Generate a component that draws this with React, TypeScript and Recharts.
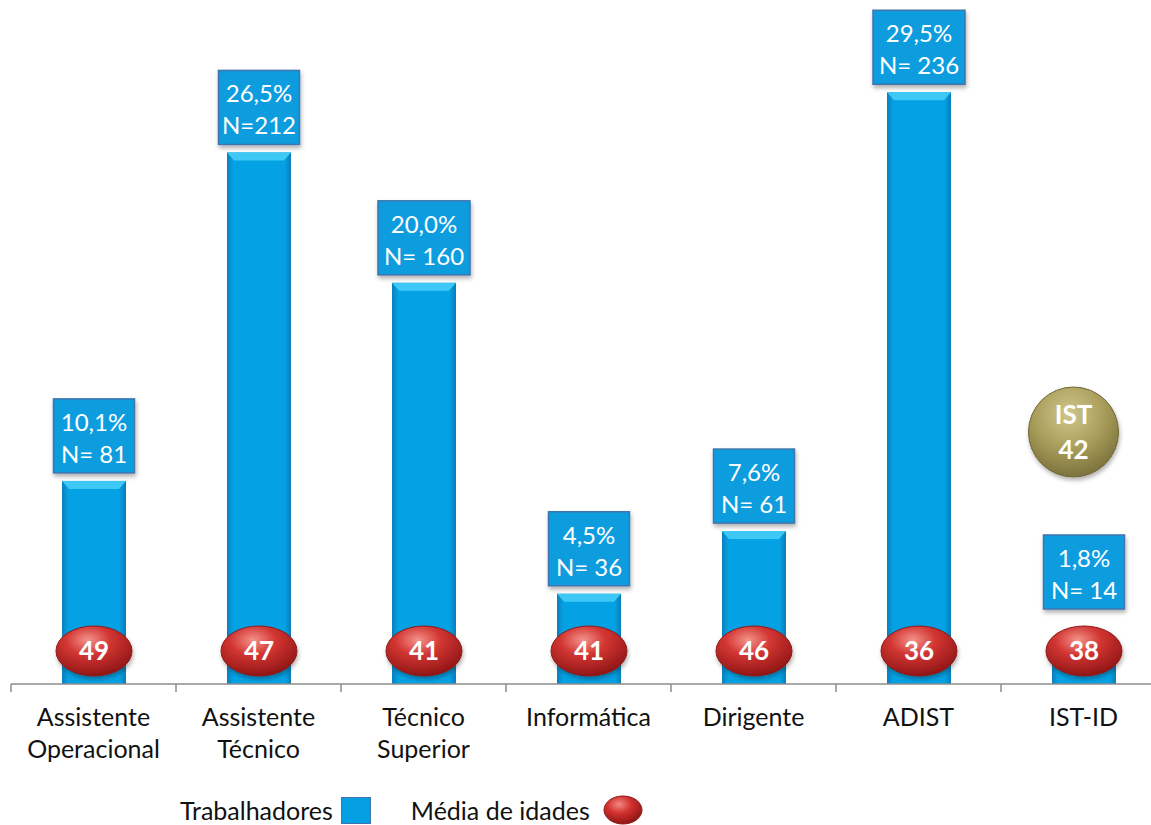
import React from 'react';
import { BarChart, Bar, XAxis, YAxis, LabelList, ReferenceDot, Legend } from 'recharts';

// Distribuição dos trabalhadores por carreira e média de idades
const categories = ['Assistente Operacional', 'Assistente Técnico', 'Técnico Superior', 'Informática', 'Dirigente', 'ADIST', 'IST-ID'];
const workers = [81, 212, 160, 36, 61, 236, 14];
const shares = [10.1, 26.5, 20.0, 4.5, 7.6, 29.5, 1.8];
const countLabels = ['N= 81', 'N=212', 'N= 160', 'N= 36', 'N= 61', 'N= 236', 'N= 14'];
const meanAges = [49, 47, 41, 41, 46, 36, 38];
const overallName = 'IST';
const overallMeanAge = 42;

const chartData = categories.map((name, i) => ({
  name,
  n: workers[i],
  share: shares[i],
  age: meanAges[i],
}));

const FONT = 'Lato, "Open Sans", sans-serif';
const HALF_BAND = 82.5;

const BarShape = (props: any) => {
  const { x, y, width, height } = props;
  if (height <= 0) return null;
  return (
    <g>
      <rect x={x} y={y} width={width} height={height} fill="url(#barGrad)" />
      <polygon
        points={`${x},${y} ${x + width},${y} ${x + width - 7},${y + 8} ${x + 7},${y + 8}`}
        fill="#3ec8f5"
      />
    </g>
  );
};

const ValueBox = (props: any) => {
  const { x, y, width, index } = props;
  const cx = x + width / 2;
  const pct = shares[index].toFixed(1).replace('.', ',') + '%';
  const nl = countLabels[index];
  const boxW = Math.max(pct.length, nl.length) * 11 + 26;
  const boxH = 74;
  const bottom = Math.min(y - 8, 609);
  const top = bottom - boxH;
  return (
    <g>
      <rect x={cx - boxW / 2} y={top} width={boxW} height={boxH} fill="#0a9ddf" stroke="#3f74ad" strokeWidth={1.5} filter="url(#shadow)" />
      <text x={cx} y={top + 32} textAnchor="middle" fill="#fff" fontSize={24} fontFamily={FONT}>{pct}</text>
      <text x={cx} y={top + 64} textAnchor="middle" fill="#fff" fontSize={24} fontFamily={FONT}>{nl}</text>
    </g>
  );
};

const AgeBadge = (props: any) => {
  const { x, y, width, height, index } = props;
  const cx = x + width / 2;
  const cy = y + height - 33;
  return (
    <g>
      <ellipse cx={cx} cy={cy} rx={38} ry={25} fill="url(#redGrad)" stroke="#8e1a1a" strokeWidth={1} filter="url(#shadow)" />
      <text x={cx} y={cy + 9} textAnchor="middle" fill="#fff" fontSize={26} fontWeight="bold" fontFamily={FONT}>{meanAges[index]}</text>
    </g>
  );
};

const CategoryTick = (props: any) => {
  const { x, y, payload, index } = props;
  const lines = String(payload.value).split(' ');
  return (
    <g>
      <line x1={x - HALF_BAND} y1={y - 8} x2={x - HALF_BAND} y2={y} stroke="#8c8c8c" strokeWidth={1.5} />
      {index === categories.length - 1 && (
        <line x1={x + HALF_BAND} y1={y - 8} x2={x + HALF_BAND} y2={y} stroke="#8c8c8c" strokeWidth={1.5} />
      )}
      {lines.map((l, i) => (
        <text key={i} x={x} y={y + 34 + i * 32} textAnchor="middle" fill="#111" fontSize={25} fontFamily={FONT}>{l}</text>
      ))}
    </g>
  );
};

const OverallDot = (props: any) => {
  const { cx, cy } = props;
  const x = cx - 10;
  return (
    <g>
      <circle cx={x} cy={cy} r={45} fill="url(#goldGrad)" stroke="#6f6733" strokeWidth={1} filter="url(#shadow)" />
      <text x={x} y={cy - 8} textAnchor="middle" fill="#fff" fontSize={26} fontWeight="bold" fontFamily={FONT}>{overallName}</text>
      <text x={x} y={cy + 27} textAnchor="middle" fill="#fff" fontSize={26} fontWeight="bold" fontFamily={FONT}>{overallMeanAge}</text>
    </g>
  );
};

const renderLegend = () => (
  <div style={{ display: 'flex', alignItems: 'center', paddingLeft: 180, paddingTop: 14, fontFamily: FONT, fontSize: 25, color: '#111' }}>
    <span>Trabalhadores</span>
    <span style={{ display: 'inline-block', width: 30, height: 27, background: '#049fe2', border: '1px solid #3f74ad', marginLeft: 8, boxSizing: 'border-box' }} />
    <span style={{ marginLeft: 40 }}>Média de idades</span>
    <svg width={44} height={32} style={{ marginLeft: 12 }}>
      <defs>
        <radialGradient id="legRed" cx="40%" cy="30%" r="70%">
          <stop offset="0%" stopColor="#f08a82" />
          <stop offset="45%" stopColor="#d3312f" />
          <stop offset="100%" stopColor="#8f1515" />
        </radialGradient>
      </defs>
      <ellipse cx={21} cy={16} rx={19} ry={14} fill="url(#legRed)" stroke="#8e1a1a" strokeWidth={1} />
    </svg>
  </div>
);

export default function App() {
  return (
    <div style={{ position: 'absolute', left: 0, top: 0, width: 1151, height: 825, overflow: 'hidden', background: '#fff' }}>
      <BarChart width={1166} height={825} data={chartData} margin={{ top: 7, right: 0, left: 11, bottom: 0 }}>
        <defs>
          <linearGradient id="barGrad" x1="0" y1="0" x2="1" y2="0">
            <stop offset="0%" stopColor="#0b7fbb" />
            <stop offset="10%" stopColor="#04a2e5" />
            <stop offset="90%" stopColor="#04a2e5" />
            <stop offset="100%" stopColor="#0a7cb6" />
          </linearGradient>
          <radialGradient id="redGrad" cx="42%" cy="28%" r="75%">
            <stop offset="0%" stopColor="#f3938a" />
            <stop offset="40%" stopColor="#d23532" />
            <stop offset="100%" stopColor="#8c1414" />
          </radialGradient>
          <radialGradient id="goldGrad" cx="45%" cy="30%" r="75%">
            <stop offset="0%" stopColor="#cfc68c" />
            <stop offset="50%" stopColor="#aa9f5c" />
            <stop offset="100%" stopColor="#756c38" />
          </radialGradient>
          <filter id="shadow" x="-20%" y="-20%" width="150%" height="160%">
            <feDropShadow dx="1" dy="3" stdDeviation="2" floodColor="#000" floodOpacity="0.3" />
          </filter>
        </defs>
        <XAxis
          dataKey="name"
          interval={0}
          height={96}
          axisLine={{ stroke: '#8c8c8c', strokeWidth: 1.5 }}
          tickLine={false}
          tick={<CategoryTick />}
        />
        <YAxis hide domain={[0, 270]} />
        <Bar dataKey="n" barSize={64} shape={<BarShape />} isAnimationActive={false}>
          <LabelList dataKey="n" content={<ValueBox />} />
          <LabelList dataKey="age" content={<AgeBadge />} />
        </Bar>
        <ReferenceDot x="IST-ID" y={100.5} r={45} shape={<OverallDot />} />
        <Legend verticalAlign="bottom" height={45} content={renderLegend} wrapperStyle={{ left: 0, width: 1151 }} />
      </BarChart>
    </div>
  );
}
